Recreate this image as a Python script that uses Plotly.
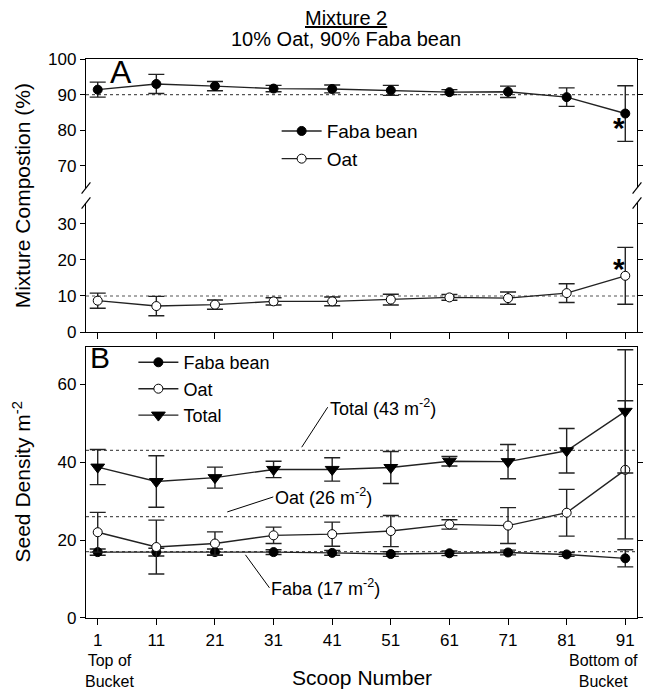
import plotly.graph_objects as go

scoops = [1, 11, 21, 31, 41, 51, 61, 71, 81, 91]
tick_labels = ["1", "11", "21", "31", "41", "51", "61", "71", "81", "91"]

# Panel A: mixture composition (%)
comp_faba = [91.4, 93.0, 92.4, 91.7, 91.6, 91.2, 90.7, 90.8, 89.3, 84.7]
comp_faba_err = [2.1, 2.7, 1.3, 0.9, 1.1, 1.4, 0.7, 1.6, 2.6, 7.8]
comp_oat = [8.7, 7.2, 7.6, 8.5, 8.5, 9.0, 9.6, 9.4, 10.8, 15.6]
comp_oat_err = [2.1, 2.7, 1.3, 1.0, 1.2, 1.5, 0.8, 1.7, 2.6, 7.9]

# Panel B: seed density (m^-2)
dens_faba = [16.9, 16.9, 16.9, 16.9, 16.7, 16.4, 16.6, 16.8, 16.3, 15.3]
dens_faba_err = [0.8, 1.0, 0.8, 0.6, 0.6, 0.6, 0.6, 0.6, 0.5, 2.2]
dens_oat = [22.0, 18.2, 19.1, 21.2, 21.5, 22.3, 24.0, 23.7, 27.0, 38.0]
dens_oat_err = [5.1, 6.9, 3.0, 2.1, 3.1, 4.0, 1.2, 4.6, 6.0, 17.7]
dens_total = [38.7, 35.0, 36.0, 38.1, 38.1, 38.6, 40.2, 40.1, 42.9, 53.0]
dens_total_err = [4.5, 6.6, 2.7, 2.1, 3.0, 4.1, 1.2, 4.4, 5.7, 15.8]

target_comp_faba = 90
target_comp_oat = 10
target_total = 43
target_oat = 26
target_faba = 17

FONT = "Liberation Sans, Arial, sans-serif"
LC = "#222222"

fig = go.Figure()

def err(v):
    return dict(type="data", array=v, visible=True, color=LC, thickness=1.4, width=8)

def ref_line(y, xa, ya):
    fig.add_trace(go.Scatter(x=[-1, 93], y=[y, y], mode="lines", xaxis=xa, yaxis=ya,
                             line=dict(color="#555555", width=1.2, dash="dot"),
                             showlegend=False, hoverinfo="skip"))

# reference lines
ref_line(target_comp_faba, "x3", "y3")
ref_line(target_comp_oat, "x2", "y2")
ref_line(target_total, "x", "y")
ref_line(target_oat, "x", "y")
ref_line(target_faba, "x", "y")

# Panel A
fig.add_trace(go.Scatter(x=scoops, y=comp_faba, error_y=err(comp_faba_err), xaxis="x3", yaxis="y3",
                         mode="lines+markers", name="Faba bean", legend="legend",
                         line=dict(color=LC, width=1.4),
                         marker=dict(symbol="circle", size=9, color="black", line=dict(color="black", width=1))))
fig.add_trace(go.Scatter(x=scoops, y=comp_oat, error_y=err(comp_oat_err), xaxis="x2", yaxis="y2",
                         mode="lines+markers", name="Oat", legend="legend",
                         line=dict(color=LC, width=1.4),
                         marker=dict(symbol="circle", size=9, color="white", line=dict(color="black", width=1))))

# Panel B
fig.add_trace(go.Scatter(x=scoops, y=dens_faba, error_y=err(dens_faba_err), xaxis="x", yaxis="y",
                         mode="lines+markers", name="Faba bean", legend="legend2",
                         line=dict(color=LC, width=1.4),
                         marker=dict(symbol="circle", size=9, color="black", line=dict(color="black", width=1))))
fig.add_trace(go.Scatter(x=scoops, y=dens_oat, error_y=err(dens_oat_err), xaxis="x", yaxis="y",
                         mode="lines+markers", name="Oat", legend="legend2",
                         line=dict(color=LC, width=1.4),
                         marker=dict(symbol="circle", size=9, color="white", line=dict(color="black", width=1))))
fig.add_trace(go.Scatter(x=scoops, y=dens_total, error_y=err(dens_total_err), xaxis="x", yaxis="y",
                         mode="lines+markers", name="Total", legend="legend2",
                         line=dict(color=LC, width=1.4),
                         marker=dict(symbol="triangle-down", size=12, color="black", line=dict(color="black", width=1))))

tickfont = dict(family=FONT, size=17, color="black")
common_y = dict(showline=True, linecolor="black", linewidth=1.3, ticks="outside", ticklen=5,
                tickcolor="black", tickwidth=1.2, mirror="ticks", showgrid=False, zeroline=False,
                tickfont=tickfont)

fig.update_layout(
    width=648, height=694,
    margin=dict(l=86, r=5, t=59, b=76),
    paper_bgcolor="white", plot_bgcolor="white",
    font=dict(family=FONT, size=17, color="black"),
    xaxis=dict(domain=[0, 1], range=[-1, 93], anchor="y", tickvals=scoops, ticktext=tick_labels,
               showline=True, linecolor="black", linewidth=1.3, mirror=True, ticks="outside",
               ticklen=6, tickwidth=1.2, tickcolor="black", showgrid=False, zeroline=False,
               tickfont=tickfont),
    xaxis2=dict(domain=[0, 1], range=[-1, 93], anchor="y2", tickvals=scoops, showticklabels=False,
                showline=True, linecolor="black", linewidth=1.3, ticks="outside", ticklen=6,
                tickwidth=1.2, tickcolor="black", showgrid=False, zeroline=False),
    xaxis3=dict(domain=[0, 1], range=[-1, 93], anchor="y3", side="top",
                showticklabels=False, ticks="", showline=True, linecolor="black", linewidth=1.3,
                showgrid=False, zeroline=False),
    yaxis=dict(domain=[0, 0.4848], range=[0, 69.5], tickvals=[0, 20, 40, 60], anchor="x", **common_y),
    yaxis2=dict(domain=[0.5116, 0.7424], range=[0, 35.8], tickvals=[0, 10, 20, 30], anchor="x2", **common_y),
    yaxis3=dict(domain=[0.7692, 1.0], range=[63.8, 100], tickvals=[70, 80, 90, 100], anchor="x3", **common_y),
    legend=dict(x=0.346, y=0.905, xanchor="left", yanchor="top", bgcolor="rgba(0,0,0,0)",
                font=dict(family=FONT, size=19), itemwidth=40, tracegroupgap=0),
    legend2=dict(x=0.086, y=0.490, xanchor="left", yanchor="top", bgcolor="rgba(0,0,0,0)",
                 font=dict(family=FONT, size=18), itemwidth=40, tracegroupgap=0),
    showlegend=True,
)

ann = []
ann.append(dict(text="<u>Mixture 2</u>", x=0.472, y=1.0, xref="paper", yref="paper", yshift=41,
                xanchor="center", yanchor="middle", showarrow=False, font=dict(family=FONT, size=20)))
ann.append(dict(text="10% Oat, 90% Faba bean", x=0.472, y=1.0, xref="paper", yref="paper", yshift=20,
                xanchor="center", yanchor="middle", showarrow=False, font=dict(family=FONT, size=20)))
ann.append(dict(text="A", x=1, y=100, xref="x3", yref="y3", xanchor="left", yanchor="top",
                xshift=10, yshift=7, showarrow=False, font=dict(family=FONT, size=32)))
ann.append(dict(text="B", x=-1, y=69.5, xref="x", yref="y", xanchor="left", yanchor="top",
                xshift=2, yshift=8, showarrow=False, font=dict(family=FONT, size=30)))
ann.append(dict(text="<b>*</b>", x=89, y=81.5, xref="x3", yref="y3", showarrow=False,
                xanchor="center", yanchor="middle", xshift=5, yshift=-3, font=dict(family=FONT, size=30)))
ann.append(dict(text="<b>*</b>", x=89, y=17.5, xref="x2", yref="y2", showarrow=False,
                xanchor="center", yanchor="middle", xshift=5, font=dict(family=FONT, size=30)))
# density reference labels with arrows
ann.append(dict(text="Total (43 m<sup>-2</sup>)", x=35.8, y=43.8, xref="x", yref="y", ax=26, ay=-40,
                xanchor="left", yanchor="middle", showarrow=True, arrowhead=0, arrowwidth=1,
                arrowcolor="black", font=dict(family=FONT, size=18)))
ann.append(dict(text="Oat (26 m<sup>-2</sup>)", x=23.1, y=27.2, xref="x", yref="y", ax=46, ay=-15,
                xanchor="left", yanchor="middle", showarrow=True, arrowhead=0, arrowwidth=1,
                arrowcolor="black", font=dict(family=FONT, size=18)))
ann.append(dict(text="Faba (17 m<sup>-2</sup>)", x=26.2, y=16.2, xref="x", yref="y", ax=24, ay=33,
                xanchor="left", yanchor="middle", showarrow=True, arrowhead=0, arrowwidth=1,
                arrowcolor="black", font=dict(family=FONT, size=18)))
for txt, xv, xs in (("Top of<br>Bucket", 1, 12), ("Bottom of<br>Bucket", 91, -22)):
    ann.append(dict(text=txt, x=xv, y=0, xref="x", yref="paper", yshift=-33, xshift=xs,
                    xanchor="center", yanchor="top", align="center", showarrow=False,
                    borderpad=0, font=dict(family=FONT, size=16)))
ann.append(dict(text="Scoop Number", x=0.5, y=0, xref="paper", yref="paper", yshift=-59,
                xanchor="center", yanchor="middle", showarrow=False, font=dict(family=FONT, size=21)))
ann.append(dict(text="Mixture Compostion (%)", x=0, y=0.7543, xref="paper", yref="paper",
                xshift=-64, xanchor="center", yanchor="middle", textangle=-90, showarrow=False,
                font=dict(family=FONT, size=21)))
ann.append(dict(text="Seed Density m<sup>-2</sup>", x=0, y=0.2424, xref="paper", yref="paper",
                xshift=-64, xanchor="center", yanchor="middle", textangle=-90, showarrow=False,
                font=dict(family=FONT, size=21)))
fig.update_layout(annotations=ann)

# axis break marks
shapes = []
for xp in (0, 1):
    for yp in (0.7692, 0.7424):
        shapes.append(dict(type="line", xref="paper", yref="paper",
                           x0=xp - 0.008, y0=yp - 0.010, x1=xp + 0.008, y1=yp + 0.010,
                           line=dict(color="black", width=1.2)))
fig.update_layout(shapes=shapes)

fig.write_html("out.html", config={"displayModeBar": False},
               post_script="document.body.style.margin='0';document.body.style.overflow='hidden';")
